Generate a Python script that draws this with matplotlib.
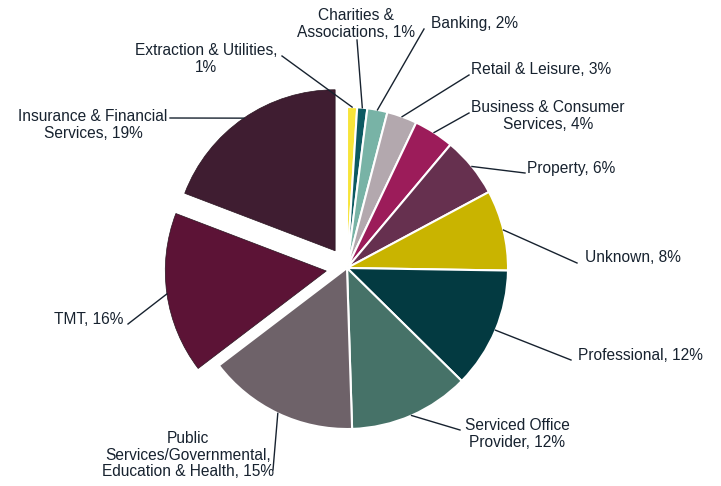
import numpy as np
import matplotlib
matplotlib.use("Agg")
import matplotlib.pyplot as plt

labels = ["Extraction & Utilities,\n1%", "Charities &\nAssociations, 1%", "Banking, 2%",
          "Retail & Leisure, 3%", "Business & Consumer\nServices, 4%", "Property, 6%",
          "Unknown, 8%", "Professional, 12%", "Serviced Office\nProvider, 12%",
          "Public\nServices/Governmental,\nEducation & Health, 15%", "TMT, 16%",
          "Insurance & Financial\nServices, 19%"]
values = [1, 1, 2, 3, 4, 6, 8, 12, 12, 15, 16, 19]
colors = ["#F7E43A", "#0C5A62", "#78B3A6", "#B3A8AE", "#9C1C5A", "#66304F",
          "#C9B400", "#033A41", "#467268", "#6E6269", "#5C1336", "#3F1D31"]
explode_frac = [0, 0, 0, 0, 0, 0, 0, 0, 0, 0, 0.13, 0.13]

# label text positions (pixel coords, y from top), alignment and line anchor
label_pos = [(206, 59, "center"), (356, 24, "center"), (431, 24, "left"),
             (471, 70, "left"), (548, 116, "center"), (527, 168, "left"),
             (585, 258, "left"), (578, 355, "left"), (517, 434, "center"),
             (188, 455, "center"), (123, 320, "right"), (93, 125, "center")]
anchors = [(282, 56), (357, 40), (424, 29), (469, 75), (469, 113), (525, 173),
           (577, 263), (571, 360), (460, 430), (273, 470), (128, 324), (170, 118)]

W, H = 721, 486
fig = plt.figure(figsize=(W / 100, H / 100), dpi=100)
ax = fig.add_axes([0, 0, 1, 1])

cx, cy, R = 347, H - 268, 161
wedges, _ = ax.pie(values, colors=colors, explode=[e * R for e in explode_frac],
                   startangle=90, counterclock=False, center=(cx, cy), radius=R,
                   wedgeprops=dict(edgecolor="white", linewidth=1.5))
for w, e in zip(wedges, explode_frac):
    if e > 0:
        w.set_edgecolor("#2a1420")
        w.set_linewidth(0.5)

ax.set_aspect("equal")
ax.axis("off")

tc = "#17222F"
for w, lab, (tx, ty, ha), (axp, ayp) in zip(wedges, labels, label_pos, anchors):
    th = np.deg2rad((w.theta1 + w.theta2) / 2)
    wx = w.center[0] + w.r * np.cos(th)
    wy = w.center[1] + w.r * np.sin(th)
    ax.text(tx, H - ty, lab, ha=ha, va="center", fontsize=11.2,
            family=["Liberation Sans", "DejaVu Sans"], color=tc, linespacing=1.15)
    ax.plot([axp, wx], [H - ayp, wy], color=tc, lw=1.0)

ax.set_xlim(0, W)
ax.set_ylim(0, H)
fig.savefig("out.png", dpi=100)
